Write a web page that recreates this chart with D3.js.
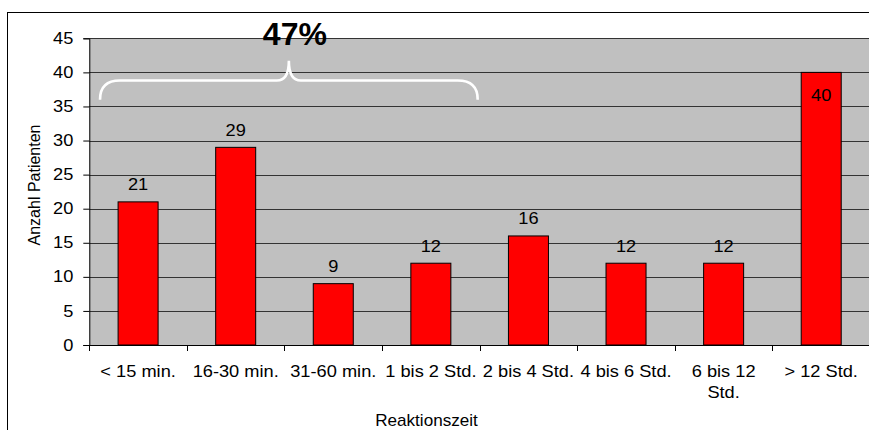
<!DOCTYPE html>
<html>
<head>
<meta charset="utf-8">
<script src="https://cdn.jsdelivr.net/npm/d3@7/dist/d3.min.js"></script>
<style>
  html, body { margin: 0; padding: 0; background: #fff; }
  svg { display: block; font-family: "Liberation Sans", Arial, sans-serif; }
</style>
</head>
<body>
<svg id="chart" width="869" height="430"></svg>
<script>
// Reaktionszeit bis zur Behandlung – Anzahl Patienten je Zeitklasse
const categories = ["< 15 min.", "16-30 min.", "31-60 min.", "1 bis 2 Std.", "2 bis 4 Std.", "4 bis 6 Std.", "6 bis 12 Std.", "> 12 Std."];
const tickLines = [["< 15 min."], ["16-30 min."], ["31-60 min."], ["1 bis 2 Std."], ["2 bis 4 Std."], ["4 bis 6 Std."], ["6 bis 12", "Std."], ["> 12 Std."]];
const patients = [21, 29, 9, 12, 16, 12, 12, 40];
const yTicks = [0, 5, 10, 15, 20, 25, 30, 35, 40, 45];
const braceLabel = "47%";
const braceFrom = 0, braceTo = 3;          // first and last category under the brace
const braceLevels = { end: 36, flat: 38.8, peak: 41.7 };

const SX = 1.14;   // horizontal widening of the text
const svg = d3.select("#chart");

const plot = { left: 89.3, right: 870, top: 38.3, bottom: 345 };

const x = d3.scaleBand().domain(categories).range([plot.left, plot.right]).padding(0);
const y = d3.scaleLinear().domain([0, 45]).range([plot.bottom, plot.top]);
const barW = x.bandwidth() * 0.41;

// outer frame
svg.append("rect")
  .attr("x", 7.5).attr("y", 12.5).attr("width", 1000).attr("height", 1000)
  .attr("fill", "#fff").attr("stroke", "#000").attr("stroke-width", 1);

// plot background
svg.append("rect")
  .attr("x", plot.left).attr("y", plot.top)
  .attr("width", plot.right - plot.left).attr("height", plot.bottom - plot.top)
  .attr("fill", "#c0c0c0");

// gridlines
svg.append("g").selectAll("line").data(yTicks.filter(d => d > 0)).join("line")
  .attr("x1", plot.left).attr("x2", plot.right)
  .attr("y1", d => Math.round(y(d)) + 0.5).attr("y2", d => Math.round(y(d)) + 0.5)
  .attr("stroke", "#333").attr("stroke-width", 1);

function widen(sel, sx = SX) {
  sel.each(function () {
    const t = d3.select(this);
    const tx = +t.attr("x") || 0, ty = +t.attr("y") || 0;
    t.attr("x", 0).attr("y", 0).attr("transform", `translate(${tx},${ty}) scale(${sx},1)`);
  });
}

// bars
svg.append("g").selectAll("rect").data(patients).join("rect")
  .attr("x", (d, i) => x(categories[i]) + (x.bandwidth() - barW) / 2)
  .attr("y", d => y(d))
  .attr("width", barW)
  .attr("height", d => y(0) - y(d))
  .attr("fill", "#ff0000").attr("stroke", "#000").attr("stroke-width", 1);

// value labels (inside the bar when it reaches the top area)
svg.append("g").selectAll("text").data(patients).join("text")
  .attr("x", (d, i) => x(categories[i]) + x.bandwidth() / 2)
  .attr("y", d => d >= 38 ? y(d) + 29 : y(d) - 11.5)
  .attr("text-anchor", "middle").attr("font-size", 16).attr("fill", "#000")
  .text(d => d)
  .call(widen);

// y axis
const yAxis = svg.append("g").attr("transform", `translate(${plot.left},0)`)
  .call(d3.axisLeft(y).tickValues(yTicks).tickSize(6).tickPadding(10).tickFormat(d3.format("d")));
yAxis.select(".domain").attr("stroke", "#000");
yAxis.selectAll(".tick line").attr("stroke", "#000");
yAxis.selectAll(".tick text").attr("font-size", 16).attr("font-family", null).attr("fill", "#000").call(widen);

// x axis line and boundary ticks
svg.append("line")
  .attr("x1", plot.left).attr("x2", plot.right)
  .attr("y1", plot.bottom + 0.5).attr("y2", plot.bottom + 0.5)
  .attr("stroke", "#000");
svg.append("g").selectAll("line").data(categories).join("line")
  .attr("x1", d => Math.round(x(d)) + 0.5).attr("x2", d => Math.round(x(d)) + 0.5)
  .attr("y1", plot.bottom).attr("y2", plot.bottom + 6)
  .attr("stroke", "#000");

// category labels
const xl = svg.append("g").selectAll("text").data(categories).join("text")
  .attr("x", d => x(d) + x.bandwidth() / 2)
  .attr("y", plot.bottom + 32)
  .attr("text-anchor", "middle").attr("font-size", 16).attr("fill", "#000");
xl.each(function (d, i) {
  const t = d3.select(this);
  tickLines[i].forEach((ln, k) => {
    t.append("tspan").attr("x", 0).attr("dy", k === 0 ? 0 : 21).text(ln);
  });
});
xl.call(widen);

// axis titles
svg.append("text")
  .attr("transform", "translate(40,185) rotate(-90)")
  .attr("text-anchor", "middle").attr("font-size", 16).attr("fill", "#000")
  .text("Anzahl Patienten");
svg.append("text")
  .attr("x", 426.5).attr("y", 426)
  .attr("text-anchor", "middle").attr("font-size", 16).attr("fill", "#000")
  .text("Reaktionszeit")
  .call(widen, 1.07);

// brace over the short reaction times
const bx0 = x(categories[braceFrom]) + x.bandwidth() * 0.11;
const bx1 = x(categories[braceTo]) + x.bandwidth() * 0.98;
const bxm = (bx0 + bx1) / 2;
const yE = y(braceLevels.end), yF = y(braceLevels.flat), yP = y(braceLevels.peak);
const r = 20, rp = 12;
const brace = d3.path();
brace.moveTo(bx0, yE);
brace.quadraticCurveTo(bx0, yF, bx0 + r, yF);
brace.lineTo(bxm - rp, yF);
brace.quadraticCurveTo(bxm, yF, bxm, yP);
brace.quadraticCurveTo(bxm, yF, bxm + rp, yF);
brace.lineTo(bx1 - r, yF);
brace.quadraticCurveTo(bx1, yF, bx1, yE);
svg.append("path").attr("d", brace.toString())
  .attr("fill", "none").attr("stroke", "#fff").attr("stroke-width", 2.6);

svg.append("text")
  .attr("x", bxm + 6).attr("y", 45)
  .attr("text-anchor", "middle").attr("font-size", 32).attr("font-weight", "bold").attr("fill", "#000")
  .text(braceLabel);
</script>
</body>
</html>
